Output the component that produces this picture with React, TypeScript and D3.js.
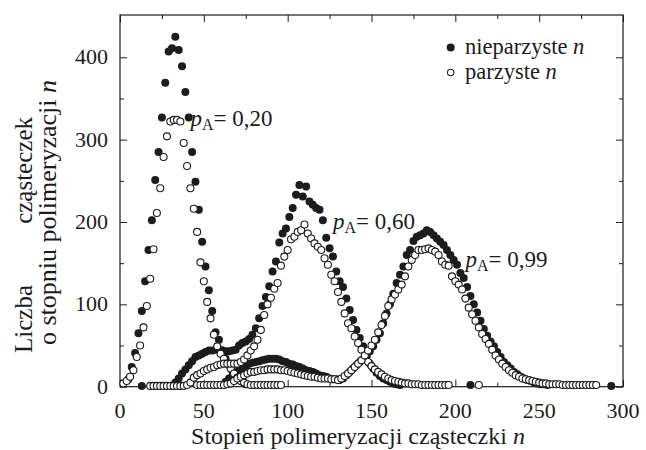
import React, { useRef, useEffect } from 'react';
import * as d3 from 'd3';

// [n, liczba cząsteczek]; odd n = filled, even n = open
const oddP20 = [[5, 9], [7, 24], [9, 41], [11, 65], [13, 92], [15, 128], [17, 166], [19, 202], [21, 251], [23, 285], [25, 327], [27, 369], [29, 407], [31, 411], [33, 425], [35, 409], [37, 389], [39, 358], [41, 327], [43, 285], [45, 249], [47, 215], [49, 176], [51, 146], [53, 117], [55, 92], [57, 66], [59, 57], [61, 44], [63, 34], [65, 26], [67, 19], [69, 13], [71, 9], [73, 6], [75, 3]];
const evenP20 = [[2, 4], [4, 7], [6, 12], [8, 20], [10, 36], [12, 50], [14, 72], [16, 98], [18, 131], [20, 167], [22, 211], [24, 241], [26, 279], [28, 304], [30, 322], [32, 324], [34, 324], [36, 322], [38, 296], [40, 268], [42, 241], [44, 216], [46, 188], [48, 151], [50, 128], [52, 103], [54, 83], [56, 63], [58, 49], [60, 40], [62, 34], [64, 28], [66, 22], [68, 16], [70, 11], [72, 7], [74, 5], [76, 3], [78, 2], [80, 2], [82, 2], [84, 2], [86, 2], [88, 2], [90, 2], [92, 2], [94, 2], [96, 2]];

const oddP60 = [[13, 1], [31, 1], [33, 5], [35, 10], [37, 16], [39, 21], [41, 26], [43, 31], [45, 36], [47, 38], [49, 40], [51, 42], [53, 44], [55, 44], [57, 45], [59, 45], [61, 44], [63, 43], [65, 43], [67, 44], [69, 45], [71, 50], [73, 53], [75, 55], [77, 58], [79, 63], [81, 71], [83, 83], [85, 98], [87, 109], [89, 122], [91, 140], [93, 152], [95, 175], [97, 186], [99, 192], [101, 206], [103, 217], [105, 233], [107, 245], [109, 231], [111, 243], [113, 225], [115, 221], [117, 217], [119, 215], [121, 202], [123, 181], [125, 168], [127, 158], [129, 140], [131, 128], [133, 121], [135, 107], [137, 93], [139, 81], [141, 69], [143, 59], [145, 49], [147, 37], [149, 28], [151, 22], [153, 17], [155, 13], [157, 10], [159, 8], [161, 6], [163, 4], [165, 3], [167, 2], [209, 2]];
const evenP60 = [[18, 1], [20, 1], [22, 1], [24, 1], [26, 1], [28, 1], [30, 1], [32, 1], [34, 1], [36, 1], [38, 1], [40, 2], [42, 5], [44, 11], [46, 14], [48, 16], [50, 19], [52, 21], [54, 23], [56, 24], [58, 26], [60, 27], [62, 28], [64, 28], [66, 28], [68, 28], [70, 28], [72, 30], [74, 33], [76, 38], [78, 44], [80, 49], [82, 57], [84, 69], [86, 87], [88, 100], [90, 108], [92, 119], [94, 126], [96, 147], [98, 158], [100, 166], [102, 179], [104, 182], [106, 188], [108, 190], [110, 197], [112, 186], [114, 180], [116, 174], [118, 170], [120, 166], [122, 156], [124, 148], [126, 136], [128, 128], [130, 115], [132, 103], [134, 89], [136, 77], [138, 71], [140, 61], [142, 53], [144, 45], [146, 36], [148, 30], [150, 25], [152, 21], [154, 18], [156, 15], [158, 12], [160, 10], [162, 8], [164, 7], [166, 6], [168, 5], [170, 4], [172, 4], [174, 3], [176, 3], [178, 3], [180, 2], [182, 2], [184, 2], [186, 2], [188, 2], [190, 2], [192, 2], [194, 2], [196, 2], [214, 2]];

const oddP99 = [[63, 6], [65, 10], [67, 13], [69, 16], [71, 20], [73, 22], [75, 25], [77, 28], [79, 29], [81, 30], [83, 31], [85, 32], [87, 33], [89, 34], [91, 34], [93, 34], [95, 33], [97, 31], [99, 30], [101, 28], [103, 27], [105, 25], [107, 24], [109, 22], [111, 20], [113, 19], [115, 18], [117, 16], [119, 14], [121, 13], [123, 12], [125, 10], [127, 9], [129, 9], [131, 8], [133, 10], [135, 14], [137, 18], [139, 22], [141, 26], [143, 30], [145, 33], [147, 37], [149, 43], [151, 49], [153, 57], [155, 65], [157, 77], [159, 89], [161, 100], [163, 113], [165, 126], [167, 136], [169, 146], [171, 160], [173, 166], [175, 177], [177, 182], [179, 184], [181, 186], [183, 190], [185, 188], [187, 184], [189, 180], [191, 176], [193, 172], [195, 166], [197, 160], [199, 154], [201, 148], [203, 138], [205, 132], [207, 121], [209, 110], [211, 100], [213, 90], [215, 80], [217, 70], [219, 62], [221, 55], [223, 49], [225, 42], [227, 36], [229, 30], [231, 26], [233, 22], [235, 18], [237, 15], [239, 12], [241, 10], [243, 8], [245, 7], [247, 5], [249, 4], [251, 3], [253, 3], [255, 2], [293, 1]];
const evenP99 = [[46, 2], [48, 2], [50, 2], [52, 2], [54, 2], [56, 2], [58, 2], [60, 2], [62, 2], [64, 3], [66, 4], [68, 7], [70, 10], [72, 12], [74, 14], [76, 16], [78, 18], [80, 18], [82, 19], [84, 20], [86, 20], [88, 21], [90, 21], [92, 21], [94, 21], [96, 20], [98, 20], [100, 19], [102, 18], [104, 17], [106, 16], [108, 15], [110, 14], [112, 13], [114, 12], [116, 12], [118, 11], [120, 10], [122, 10], [124, 10], [126, 9], [128, 9], [130, 8], [132, 10], [134, 13], [136, 16], [138, 20], [140, 24], [142, 28], [144, 32], [146, 38], [148, 44], [150, 50], [152, 57], [154, 66], [156, 75], [158, 86], [160, 98], [162, 106], [164, 112], [166, 118], [168, 124], [170, 134], [172, 146], [174, 154], [176, 160], [178, 166], [180, 166], [182, 167], [184, 168], [186, 166], [188, 164], [190, 160], [192, 152], [194, 148], [196, 147], [198, 134], [200, 128], [202, 124], [204, 118], [206, 107], [208, 96], [210, 88], [212, 80], [214, 72], [216, 64], [218, 58], [220, 52], [222, 45], [224, 38], [226, 33], [228, 28], [230, 24], [232, 20], [234, 17], [236, 14], [238, 12], [240, 10], [242, 9], [244, 8], [246, 7], [248, 6], [250, 5], [252, 4], [254, 4], [256, 3], [258, 3], [260, 3], [262, 3], [264, 2], [266, 2], [268, 2], [270, 2], [272, 2], [274, 2], [276, 2], [278, 2], [280, 2], [282, 2], [284, 2]];

const xMajor = [0, 50, 100, 150, 200, 250, 300];
const xMinor = [25, 75, 125, 175, 225, 275];
const yMajor = [0, 100, 200, 300, 400];
const yMinor = [50, 150, 250, 350];

// annotation: [pA label, n, value at text baseline]
const labels = [['0,20', 42, 316], ['0,60', 127, 192], ['0,99', 206, 145]];

const FONT = "'Liberation Serif', 'DejaVu Serif', serif";
const INK = '#1c1c1c';

export default function App() {
	const d3Chart = useRef<SVGSVGElement>(null);

	useEffect(() => {
		const svg = d3.select(d3Chart.current);
		svg.selectAll('*').remove();

		const left = 120;
		const right = 623;
		const top = 15;
		const bottom = 386.7;

		const x = d3.scaleLinear().domain([0, 300]).range([left, right]);
		const y = d3.scaleLinear().domain([0, 400]).range([bottom, 57.3]);

		const g = svg.append('g').attr('font-family', FONT).attr('fill', INK);

		// ticks on all four sides, pointing inward
		const tickAxis = (axis, size, vals, transform) => {
			const a = g.append('g').attr('transform', transform).call(axis.tickValues(vals).tickSizeInner(-size).tickSizeOuter(0).tickFormat(''));
			a.select('.domain').remove();
			a.selectAll('line').attr('stroke', INK).attr('stroke-width', 1);
			a.selectAll('text').remove();
		};
		tickAxis(d3.axisBottom(x), 7, xMajor, `translate(0,${bottom})`);
		tickAxis(d3.axisBottom(x), 4, xMinor, `translate(0,${bottom})`);
		tickAxis(d3.axisTop(x), 7, xMajor, `translate(0,${top})`);
		tickAxis(d3.axisTop(x), 4, xMinor, `translate(0,${top})`);
		tickAxis(d3.axisLeft(y), 7, yMajor, `translate(${left},0)`);
		tickAxis(d3.axisLeft(y), 4, yMinor, `translate(${left},0)`);
		tickAxis(d3.axisRight(y), 7, yMajor, `translate(${right},0)`);
		tickAxis(d3.axisRight(y), 4, yMinor, `translate(${right},0)`);

		g.append('rect')
			.attr('x', left)
			.attr('y', top)
			.attr('width', right - left)
			.attr('height', bottom - top)
			.attr('fill', 'none')
			.attr('stroke', INK)
			.attr('stroke-width', 1.2);

		// tick labels
		g.selectAll('.xl')
			.data(xMajor)
			.enter()
			.append('text')
			.attr('x', (d) => x(d))
			.attr('y', bottom + 31)
			.attr('text-anchor', 'middle')
			.attr('font-size', 22)
			.text((d) => d);
		g.selectAll('.yl')
			.data(yMajor)
			.enter()
			.append('text')
			.attr('x', left - 12)
			.attr('y', (d) => y(d) + 7)
			.attr('text-anchor', 'end')
			.attr('font-size', 22)
			.text((d) => d);

		// axis titles
		const xt = g.append('text').attr('x', 358).attr('y', 444).attr('text-anchor', 'middle').attr('font-size', 24);
		xt.append('tspan').text('Stopień polimeryzacji cząsteczki ');
		xt.append('tspan').attr('font-style', 'italic').text('n');

		g.append('text').attr('transform', 'translate(32,353) rotate(-90)').attr('font-size', 25).text('Liczba');
		g.append('text').attr('transform', 'translate(32,117) rotate(-90)').attr('text-anchor', 'end').attr('font-size', 25).text('cząsteczek');
		const yt = g.append('text').attr('transform', 'translate(56,345) rotate(-90)').attr('font-size', 26);
		yt.append('tspan').text('o stopniu polimeryzacji ');
		yt.append('tspan').attr('font-style', 'italic').text('n');

		// points: filled (odd n) under open (even n)
		const plot = g.append('g');
		[oddP20, oddP60, oddP99].forEach((s) => {
			plot.append('g')
				.selectAll('circle')
				.data(s)
				.enter()
				.append('circle')
				.attr('cx', (d) => x(d[0]))
				.attr('cy', (d) => y(d[1]))
				.attr('r', 4)
				.attr('fill', INK);
		});
		[evenP20, evenP60, evenP99].forEach((s) => {
			plot.append('g')
				.selectAll('circle')
				.data(s)
				.enter()
				.append('circle')
				.attr('cx', (d) => x(d[0]))
				.attr('cy', (d) => y(d[1]))
				.attr('r', 3.5)
				.attr('fill', '#fff')
				.attr('stroke', INK)
				.attr('stroke-width', 1.1);
		});

		// p_A labels
		labels.forEach(([v, n, val]) => {
			const t = g.append('text').attr('x', x(n)).attr('y', y(val)).attr('font-size', 23);
			t.append('tspan').attr('font-style', 'italic').text('p');
			t.append('tspan').attr('dy', 4).attr('font-size', 16).text('A');
			t.append('tspan').attr('dy', -4).text('= ' + v);
		});

		// legend
		g.append('circle').attr('cx', 450.7).attr('cy', 47.5).attr('r', 4).attr('fill', INK);
		g.append('circle').attr('cx', 450.7).attr('cy', 72.5).attr('r', 3.2).attr('fill', '#fff').attr('stroke', INK).attr('stroke-width', 1.1);
		const l1 = g.append('text').attr('x', 465).attr('y', 54).attr('font-size', 22.5);
		l1.append('tspan').text('nieparzyste ');
		l1.append('tspan').attr('font-style', 'italic').text('n');
		const l2 = g.append('text').attr('x', 465).attr('y', 79).attr('font-size', 22.5);
		l2.append('tspan').text('parzyste ');
		l2.append('tspan').attr('font-style', 'italic').text('n');
	}, []);

	return <svg ref={d3Chart} width={646} height={450} style={{ position: 'absolute', left: 0, top: 0, background: '#fff' }} />;
}
